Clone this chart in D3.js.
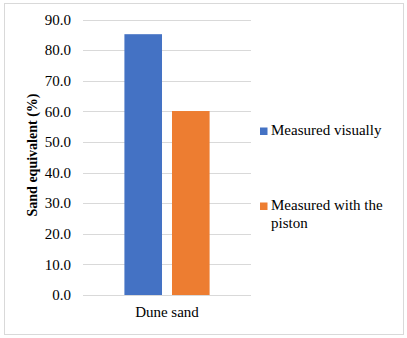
<!DOCTYPE html>
<html>
<head>
<meta charset="utf-8">
<script src="https://cdn.jsdelivr.net/npm/d3@7"></script>
<style>
  body { margin: 0; background: #fff; }
</style>
</head>
<body>
<div id="chart"></div>
<script>
const categories = ["Dune sand"];
const seriesNames = ["Measured visually", "Measured with the piston"];
const visually = [85.2];
const piston = [60.1];
const yTicks = [0, 10, 20, 30, 40, 50, 60, 70, 80, 90];
const colors = ["#4472c4", "#ed7d31"];

const font = "'Liberation Serif', 'Times New Roman', serif";
const w = 407, h = 338;
const svg = d3.select("#chart").append("svg").attr("width", w).attr("height", h);

svg.append("rect")
  .attr("x", 4.5).attr("y", 3.5).attr("width", 399).attr("height", 331)
  .attr("fill", "#fff").attr("stroke", "#d9d9d9");

const plot = { left: 83, right: 251, top: 19.5, bottom: 295 };

const x = d3.scaleBand().domain(categories).range([plot.left, plot.right]);
// two bars side by side within the category band
const xs = d3.scaleBand().domain(seriesNames).range([0, x.bandwidth()]).paddingInner(0.21).paddingOuter(0.87);
const y = d3.scaleLinear().domain([0, 90]).range([plot.bottom, plot.top]);

// gridlines
svg.append("g").selectAll("line").data(yTicks).join("line")
  .attr("x1", plot.left).attr("x2", plot.right)
  .attr("y1", d => Math.round(y(d)) + 0.5).attr("y2", d => Math.round(y(d)) + 0.5)
  .attr("stroke", "#d9d9d9").attr("stroke-width", 1);

// y axis labels
const yAxis = d3.axisLeft(y).tickValues(yTicks).tickFormat(d3.format(".1f")).tickSize(0).tickPadding(0);
const ya = svg.append("g").attr("transform", "translate(71,0)").call(yAxis);
ya.select(".domain").remove();
ya.selectAll("text").style("font-size", "15px").style("font-family", font).attr("fill", "#000");

// bars
const data = categories.map((c, i) => ({ cat: c, vals: [visually[i], piston[i]] }));
const grp = svg.append("g").selectAll("g").data(data).join("g")
  .attr("transform", d => `translate(${x(d.cat)},0)`);
grp.selectAll("rect").data(d => d.vals.map((v, j) => ({ name: seriesNames[j], v, j }))).join("rect")
  .attr("x", d => xs(d.name))
  .attr("width", xs.bandwidth())
  .attr("y", d => y(d.v))
  .attr("height", d => y(0) - y(d.v))
  .attr("fill", d => colors[d.j]);

// x axis labels
const xAxis = d3.axisBottom(x).tickSize(0).tickPadding(0);
const xa = svg.append("g").attr("transform", `translate(0,${plot.bottom + 11})`).call(xAxis);
xa.select(".domain").remove();
xa.selectAll("text").style("font-size", "15px").style("font-family", font).attr("fill", "#000");

// y title
svg.append("text")
  .attr("transform", "translate(37,155) rotate(-90)")
  .attr("text-anchor", "middle")
  .style("font-family", font).style("font-size", "14px").style("font-weight", "bold")
  .text("Sand equivalent (%)");

// legend
const legendLines = [["Measured visually"], ["Measured with the", "piston"]];
const legY = [135, 210];
const leg = svg.append("g").selectAll("g").data(legendLines).join("g")
  .attr("transform", (d, i) => `translate(260,${legY[i]})`);
leg.append("rect").attr("x", 0).attr("y", -7.5).attr("width", 7.5).attr("height", 7.5)
  .attr("fill", (d, i) => colors[i]);
leg.append("text").attr("x", 11).attr("y", 0)
  .style("font-family", font).style("font-size", "15px")
  .selectAll("tspan").data(d => d).join("tspan")
  .attr("x", 11).attr("dy", (d, i) => i === 0 ? 0 : 18)
  .text(d => d);
</script>
</body>
</html>
